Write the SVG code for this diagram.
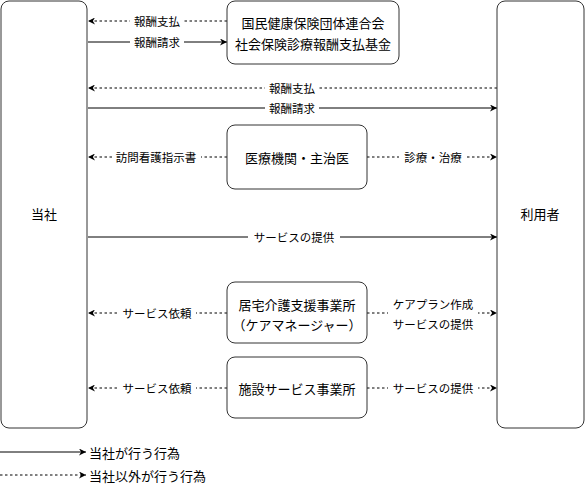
<svg xmlns="http://www.w3.org/2000/svg" width="585" height="485" viewBox="0 0 585 485">
<defs>
<marker id="ah" viewBox="0 0 10 10" refX="10" refY="5" markerWidth="7" markerHeight="7" markerUnits="userSpaceOnUse" orient="auto">
<path d="M0,0 L10,5 L0,10 L3,5 Z" fill="#000"/>
</marker>
<style>
.box{fill:#fff;stroke:#333;stroke-width:1}
.t{font-family:"Noto Sans CJK JP","Noto Sans",sans-serif;font-size:13px;fill:#000;text-anchor:middle;dominant-baseline:central}
.l{font-family:"Noto Sans CJK JP","Noto Sans",sans-serif;font-size:11.5px;fill:#000;text-anchor:middle;dominant-baseline:central}
.lg{font-family:"Noto Sans CJK JP","Noto Sans",sans-serif;font-size:13px;fill:#000;dominant-baseline:central}
.s{stroke:#000;stroke-width:1;fill:none;marker-end:url(#ah)}
.d{stroke:#000;stroke-width:1;fill:none;stroke-dasharray:2.5 2.5;marker-end:url(#ah)}
.bg{fill:#fff}
</style>
</defs>
<g id="connectors">
<line class="d" x1="227" y1="21" x2="88" y2="21"/>
<line class="s" x1="88" y1="42" x2="227" y2="42"/>
<line class="d" x1="497" y1="88" x2="88" y2="88"/>
<line class="s" x1="88" y1="108" x2="497" y2="108"/>
<line class="d" x1="227" y1="157" x2="88" y2="157"/>
<line class="d" x1="367" y1="157" x2="497" y2="157"/>
<line class="s" x1="88" y1="237" x2="497" y2="237"/>
<line class="d" x1="227" y1="313" x2="88" y2="313"/>
<line class="d" x1="367" y1="313" x2="497" y2="313"/>
<line class="d" x1="227" y1="388" x2="88" y2="388"/>
<line class="d" x1="367" y1="388" x2="497" y2="388"/>
<line class="s" x1="0" y1="452" x2="86" y2="452"/>
<line class="d" x1="0" y1="475" x2="86" y2="475"/>
<rect class="bg" x="130" y="13" width="54" height="16"/>
<text class="l" x="157" y="21">報酬支払</text>
<rect class="bg" x="130" y="34" width="54" height="16"/>
<text class="l" x="157" y="42">報酬請求</text>
<rect class="bg" x="265" y="80" width="54" height="16"/>
<text class="l" x="292" y="88">報酬支払</text>
<rect class="bg" x="265" y="100" width="54" height="16"/>
<text class="l" x="292" y="108">報酬請求</text>
<rect class="bg" x="112" y="149" width="89" height="16"/>
<text class="l" x="156" y="157">訪問看護指示書</text>
<rect class="bg" x="399" y="149" width="68" height="16"/>
<text class="l" x="433" y="157">診療・治療</text>
<rect class="bg" x="248" y="229" width="92" height="16"/>
<text class="l" x="294" y="237">サービスの提供</text>
<rect class="bg" x="118" y="305" width="78" height="16"/>
<text class="l" x="157" y="313">サービス依頼</text>
<rect class="bg" x="388" y="294" width="90" height="38"/>
<text class="l" x="433" y="304">ケアプラン作成</text>
<text class="l" x="433" y="324">サービスの提供</text>
<rect class="bg" x="118" y="380" width="78" height="16"/>
<text class="l" x="157" y="388">サービス依頼</text>
<rect class="bg" x="388" y="380" width="90" height="16"/>
<text class="l" x="433" y="388">サービスの提供</text>
</g>
<g id="node-company">
<rect class="box" x="1" y="1" width="86" height="427" rx="8"/>
<text class="t" x="44" y="213">当社</text>
</g>
<g id="node-user">
<rect class="box" x="497" y="1" width="87" height="427" rx="8"/>
<text class="t" x="540" y="213">利用者</text>
</g>
<g id="node-fund">
<rect class="box" x="227" y="1" width="172" height="63" rx="8"/>
<text class="t" x="313" y="22">国民健康保険団体連合会</text>
<text class="t" x="313" y="43">社会保険診療報酬支払基金</text>
</g>
<g id="node-medical">
<rect class="box" x="227" y="125" width="140" height="64" rx="8"/>
<text class="t" x="297" y="157">医療機関・主治医</text>
</g>
<g id="node-caremanager">
<rect class="box" x="227" y="282" width="140" height="61" rx="8"/>
<text class="t" x="297" y="304">居宅介護支援事業所</text>
<text class="t" x="297" y="324">（ケアマネージャー）</text>
</g>
<g id="node-facility">
<rect class="box" x="227" y="357" width="140" height="61" rx="8"/>
<text class="t" x="297" y="388">施設サービス事業所</text>
</g>
<g id="legend">
<text class="lg" x="89" y="452">当社が行う行為</text>
<text class="lg" x="89" y="475">当社以外が行う行為</text>
</g>
</svg>
